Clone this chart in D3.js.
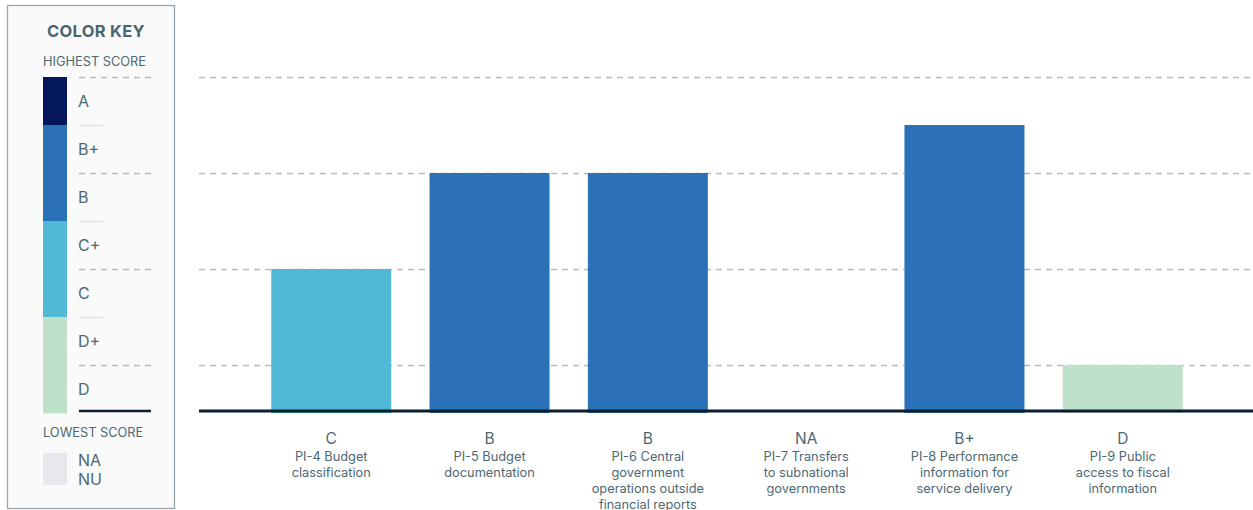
<!DOCTYPE html>
<html>
<head>
<meta charset="utf-8">
<script src="https://cdn.jsdelivr.net/npm/d3@7"></script>
<style>
  body { margin: 0; background: #fff; font-family: Inter, 'Noto Sans', sans-serif; }
  svg { display: block; }
</style>
</head>
<body>
<div id="chart"></div>
<script>
// indicators and their scores
const indicators = ['PI-4', 'PI-5', 'PI-6', 'PI-7', 'PI-8', 'PI-9']
const labelLines = [
  ['PI-4 Budget', 'classification'],
  ['PI-5 Budget', 'documentation'],
  ['PI-6 Central', 'government', 'operations outside', 'financial reports'],
  ['PI-7 Transfers', 'to subnational', 'governments'],
  ['PI-8 Performance', 'information for', 'service delivery'],
  ['PI-9 Public', 'access to fiscal', 'information']
]
const scores = ['C', 'B', 'B', 'NA', 'B+', 'D']

// grade scale, lowest to highest
const gradeOrder = ['D', 'D+', 'C', 'C+', 'B', 'B+', 'A']
const gradeColors = ['#bfe1c9', '#bfe1c9', '#4fb9d6', '#4fb9d6', '#2a71b8', '#2a71b8', '#04175a']
const gridGrades = ['D', 'C', 'B', 'A']

const w = 1253
const h = 510
const textColor = '#4d6873'

const svg = d3.select('#chart')
  .append('svg')
  .attr('width', w)
  .attr('height', h)

const gradeValue = (g) => gradeOrder.indexOf(g) + 1

const yScale = d3.scaleLinear()
  .domain([0, 7])
  .range([413, 77])

const xScale = d3.scaleBand()
  .domain(indicators)
  .range([200, 1254])
  .paddingInner(0.242)
  .paddingOuter(0.45)

const colorOf = (g) => {
  const i = gradeOrder.indexOf(g)
  return i < 0 ? '#e6e8ee' : gradeColors[i]
}

// gridlines
svg.append('g')
  .selectAll('line')
  .data(gridGrades)
  .enter()
  .append('line')
  .attr('x1', 199)
  .attr('x2', w)
  .attr('y1', d => yScale(gradeValue(d)) + 0.5)
  .attr('y2', d => yScale(gradeValue(d)) + 0.5)
  .attr('stroke', '#b1bcc1')
  .attr('stroke-width', 1.6)
  .attr('stroke-dasharray', '6,5')

// bars
const rows = indicators.map((d, i) => ({ id: d, score: scores[i], lines: labelLines[i] }))

svg.append('g')
  .selectAll('rect')
  .data(rows.filter(d => gradeOrder.includes(d.score)))
  .enter()
  .append('rect')
  .attr('x', d => xScale(d.id))
  .attr('width', xScale.bandwidth())
  .attr('y', d => yScale(gradeValue(d.score)))
  .attr('height', d => yScale(0) - yScale(gradeValue(d.score)))
  .attr('fill', d => colorOf(d.score))

// baseline
svg.append('line')
  .attr('x1', 199)
  .attr('x2', w)
  .attr('y1', 411)
  .attr('y2', 411)
  .attr('stroke', '#0d1f2e')
  .attr('stroke-width', 3)

// category labels
const lbl = svg.append('g')
  .selectAll('g')
  .data(rows)
  .enter()
  .append('g')
  .attr('transform', d => `translate(${xScale(d.id) + xScale.bandwidth() / 2},0)`)

lbl.append('text')
  .attr('y', 444)
  .attr('text-anchor', 'middle')
  .attr('font-size', 15.5)
  .attr('fill', textColor)
  .text(d => d.score)

lbl.selectAll('text.desc')
  .data(d => d.lines)
  .enter()
  .append('text')
  .attr('class', 'desc')
  .attr('y', (d, i) => 461 + i * 16)
  .attr('text-anchor', 'middle')
  .attr('font-size', 12.8)
  .attr('fill', textColor)
  .text(d => d)

// color key
const key = svg.append('g')

key.append('rect')
  .attr('x', 7.5)
  .attr('y', 5.5)
  .attr('width', 167)
  .attr('height', 503)
  .attr('fill', '#fafafa')
  .attr('stroke', '#9aa6ae')
  .attr('stroke-width', 1.3)

key.append('text')
  .attr('x', 96)
  .attr('y', 37)
  .attr('text-anchor', 'middle')
  .attr('font-size', 16.5)
  .attr('font-weight', 'bold')
  .attr('letter-spacing', 0.3)
  .attr('fill', '#4a6572')
  .text('COLOR KEY')

key.append('text')
  .attr('x', 43)
  .attr('y', 66)
  .attr('font-size', 12.8)
  .attr('fill', textColor)
  .text('HIGHEST SCORE')

const keyGrades = gradeOrder.slice().reverse()

key.selectAll('rect.sw')
  .data(keyGrades)
  .enter()
  .append('rect')
  .attr('class', 'sw')
  .attr('x', 43)
  .attr('width', 24)
  .attr('y', d => yScale(gradeValue(d)))
  .attr('height', 48.5)
  .attr('fill', d => colorOf(d))

key.selectAll('text.kg')
  .data(keyGrades)
  .enter()
  .append('text')
  .attr('class', 'kg')
  .attr('x', 78)
  .attr('y', d => yScale(gradeValue(d)) + 30)
  .attr('font-size', 16)
  .attr('fill', textColor)
  .text(d => d)

// separators: dashed above each grade with gridline, short solid otherwise
key.selectAll('line.sep')
  .data(keyGrades)
  .enter()
  .append('line')
  .attr('class', 'sep')
  .attr('x1', 79)
  .attr('x2', d => gridGrades.includes(d) ? 151 : 103)
  .attr('y1', d => yScale(gradeValue(d)) + 0.5)
  .attr('y2', d => yScale(gradeValue(d)) + 0.5)
  .attr('stroke', d => gridGrades.includes(d) ? '#b1bcc1' : '#dde2e6')
  .attr('stroke-width', 1.6)
  .attr('stroke-dasharray', d => gridGrades.includes(d) ? '6,5' : null)

key.append('line')
  .attr('x1', 79)
  .attr('x2', 151)
  .attr('y1', 411)
  .attr('y2', 411)
  .attr('stroke', '#0d1f2e')
  .attr('stroke-width', 2.5)

key.append('text')
  .attr('x', 43)
  .attr('y', 437)
  .attr('font-size', 12.8)
  .attr('fill', textColor)
  .text('LOWEST SCORE')

key.append('rect')
  .attr('x', 43)
  .attr('y', 453)
  .attr('width', 24)
  .attr('height', 32)
  .attr('fill', colorOf('NA'))

key.append('text')
  .attr('x', 78)
  .attr('y', 466)
  .attr('font-size', 16)
  .attr('fill', textColor)
  .text('NA')

key.append('text')
  .attr('x', 78)
  .attr('y', 485)
  .attr('font-size', 16)
  .attr('fill', textColor)
  .text('NU')
</script>
</body>
</html>
